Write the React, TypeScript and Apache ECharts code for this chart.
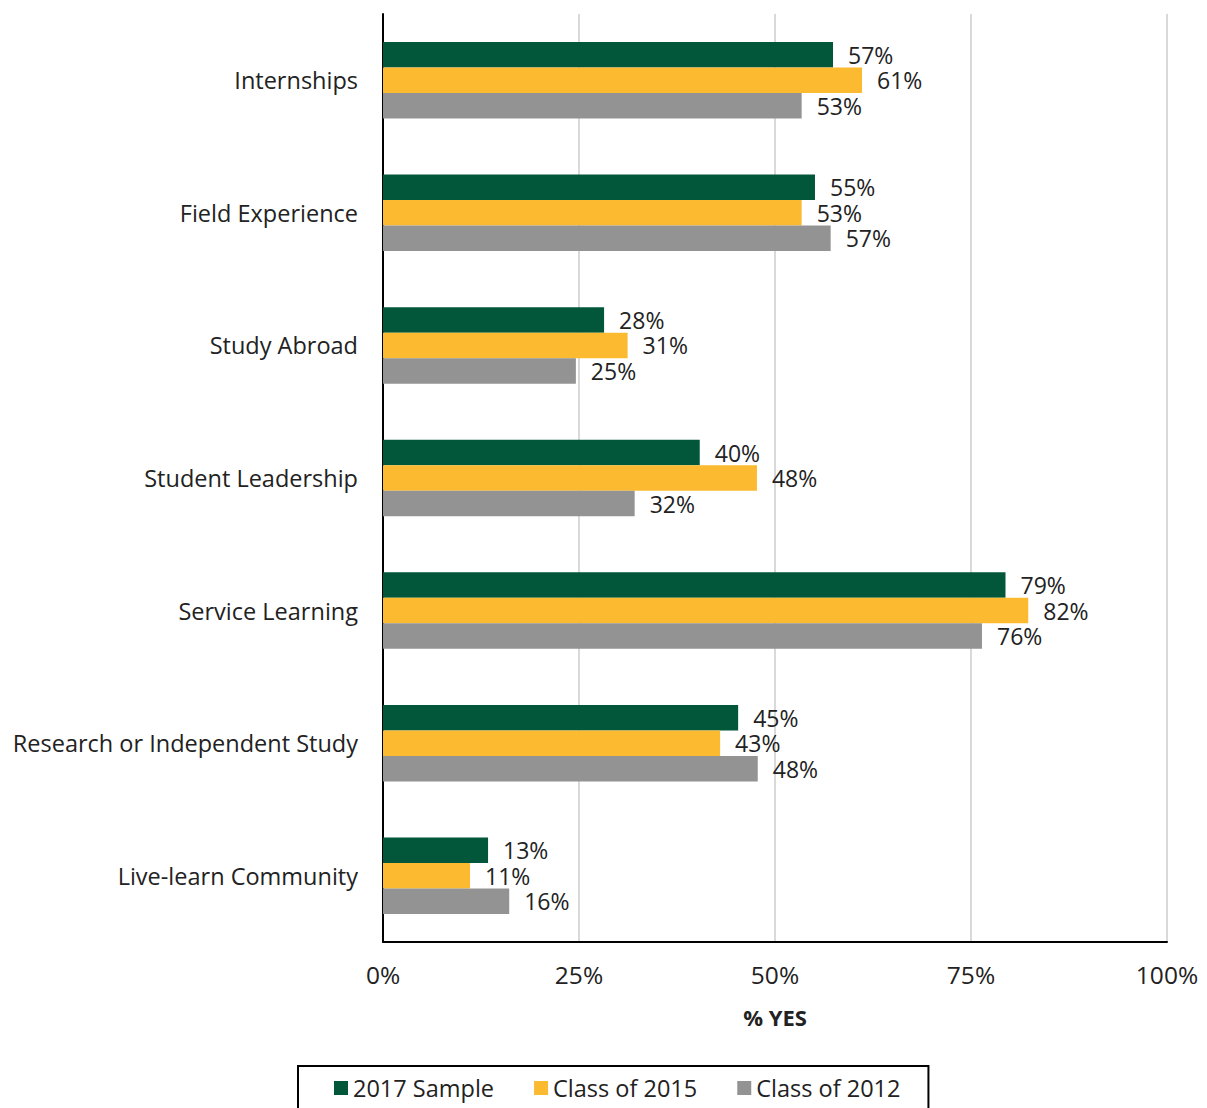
import React, { useEffect, useRef } from "react";
import * as echarts from "echarts";

const categories = [
  "Internships",
  "Field Experience",
  "Study Abroad",
  "Student Leadership",
  "Service Learning",
  "Research or Independent Study",
  "Live-learn Community",
];
const seriesNames = ["2017 Sample", "Class of 2015", "Class of 2012"];
const sample2017 = [57.4, 55.1, 28.2, 40.4, 79.4, 45.3, 13.4];
const class2015 = [61.1, 53.4, 31.2, 47.7, 82.3, 43.0, 11.1];
const class2012 = [53.4, 57.1, 24.6, 32.1, 76.4, 47.8, 16.1];
const xTicks = [0, 25, 50, 75, 100];
const colors = ["#02573B", "#FBBA30", "#939393"];

const FONT = "Open Sans";

export default function App() {
  const ref = useRef<HTMLDivElement>(null);
  useEffect(() => {
    document.body.style.margin = "0";
    const chart = echarts.init(ref.current!, null, { renderer: "svg" });
    const data = [sample2017, class2015, class2012];
    chart.setOption({
      animation: false,
      textStyle: { fontFamily: FONT },
      grid: { left: 383, right: 40, top: 14, height: 928 },
      legend: {
        top: 1066,
        left: 298,
        data: seriesNames,
        icon: "rect",
        itemWidth: 14,
        itemHeight: 14,
        itemGap: 40,
        borderColor: "#000",
        borderWidth: 2,
        padding: [10, 28, 14, 36],
        textStyle: { fontSize: 23.5, color: "#222", fontFamily: FONT },
      },
      xAxis: {
        type: "value",
        min: xTicks[0],
        max: xTicks[xTicks.length - 1],
        interval: 25,
        axisLine: { show: true, lineStyle: { color: "#000", width: 2 } },
        axisTick: { show: false },
        splitLine: { show: true, lineStyle: { color: "#d9d9d9", width: 2 } },
        axisLabel: {
          formatter: "{value}%",
          fontSize: 24.5,
          color: "#222",
          margin: 20,
          fontFamily: FONT,
        },
        name: "% YES",
        nameLocation: "middle",
        nameGap: 64,
        nameTextStyle: { fontSize: 22, fontWeight: "bold", color: "#222", fontFamily: FONT },
      },
      yAxis: {
        type: "category",
        inverse: true,
        data: categories,
        axisLine: { show: true, lineStyle: { color: "#000", width: 2 } },
        axisTick: { show: false },
        axisLabel: { fontSize: 23.5, color: "#222", margin: 25, fontFamily: FONT },
      },
      series: seriesNames.map((name, i) => ({
        name,
        type: "bar",
        data: data[i],
        barWidth: 25.5,
        barGap: "0%",
        itemStyle: { color: colors[i] },
        label: {
          show: true,
          position: "right",
          distance: 15,
          fontSize: 23,
          lineHeight: 24,
          color: "#222",
          fontFamily: FONT,
          formatter: (p: any) => Math.round(p.value) + "%",
        },
      })),
    });
    return () => chart.dispose();
  }, []);
  return <div ref={ref} style={{ width: 1207, height: 1108 }} />;
}
